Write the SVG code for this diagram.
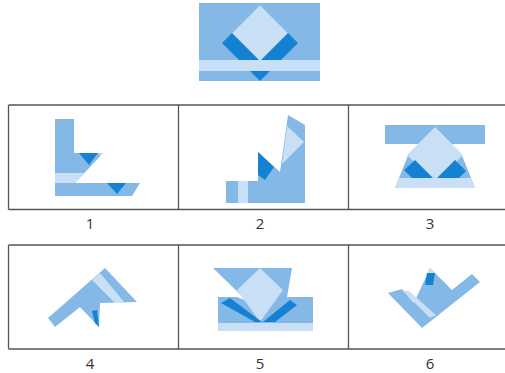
<svg xmlns="http://www.w3.org/2000/svg" width="505" height="373" viewBox="0 0 505 373">
<style>
.m{fill:#84b8e7}
.l{fill:#c9dff5}
.d{fill:#1581d2}
.g{fill:none;stroke:#555;stroke-width:1.3}
.t{font-family:"Open Sans","Liberation Sans",sans-serif;font-size:15px;fill:#333;text-anchor:middle}
</style>
<rect width="505" height="373" fill="#fff"/>
<g id="top">
<rect class="m" x="199" y="3" width="121" height="78"/>
<polygon class="d" points="260,5 298,43 260,81 222,43"/>
<polygon class="l" points="260,5 288,33 260,61 232,33"/>
<rect class="l" x="199" y="60" width="121" height="11"/>
</g>
<g id="grid">
<path class="g" d="M8.5,105H510M8.5,209.5H510M8.5,105V209.5M178.5,105V209.5M348.5,105V209.5"/>
<path class="g" d="M8.5,245H510M8.5,349H510M8.5,245V349M178.5,245V349M348.5,245V349"/>
</g>
<g id="p1">
<polygon class="m" points="55,119 74,119 74,153 103,153 75,183 55,183"/>
<polygon class="l" points="55,173 84,173 75,183 55,183"/>
<polygon class="d" points="79,153 98,153 89,165"/>
<polygon class="l" points="98,153 104,153 101,156"/>
<polygon class="m" points="55,183 140,183 132,196 55,196"/>
<polygon class="d" points="107,183 126,183 117,194"/>
</g>
<g id="p2">
<polygon class="m" points="226,181 258,181 258,152 280,172 288,115 305,125 305,203 226,203"/>
<rect class="l" x="238" y="181" width="10" height="22"/>
<polygon class="d" points="258,152 274,167 265,180 258,175"/>
<polygon class="l" points="287,126 304,142 282,164"/>
</g>
<g id="p3">
<rect class="m" x="385" y="125" width="100" height="19"/>
<polygon class="m" points="409,153 461,153 475,188 395,188"/>
<polygon class="l" points="435,127 463,155 435,183 407,155"/>
<polygon class="d" points="404,170 415,160 433,178 412,178"/>
<polygon class="d" points="437,178 455,160 466,171 459,178"/>
<polygon class="l" points="399,178 471,178 475,188 395,188"/>
</g>
<g id="p4">
<polygon class="m" points="105,268 137,302 100,303 99,327 80,307 55,327 48,318"/>
<polygon class="l" points="92,280 100,273 125,303 115,303"/>
<polygon class="d" points="92,311 97,310 99,327 95,323"/>
</g>
<g id="p5">
<polygon class="m" points="213,268 292,268 287,297 245,299"/>
<rect class="m" x="218" y="297" width="95" height="26"/>
<polygon fill="#fff" points="237,297 244,297 245,300"/>
<polygon class="l" points="260,268 283,290 260,322 237,290"/>
<polygon class="d" points="221,303 230,298 262,322 255,322"/>
<polygon class="d" points="263,322 290,300 297,305 275,322"/>
<rect class="l" x="218" y="323" width="95" height="8"/>
</g>
<g id="p6">
<polygon class="m" points="388,293 402,289 414,303 430,268 452,290 472,274 480,282 422,328"/>
<polygon class="l" points="402,290 409,291 436,315 430,318"/>
<polygon class="d" points="427,273 435,273 433,285 425,285"/>
<polygon class="l" points="430,268 435,273 427,273"/>
</g>
<g id="labels">
<text class="t" x="90" y="229">1</text>
<text class="t" x="260" y="229">2</text>
<text class="t" x="430" y="229">3</text>
<text class="t" x="90" y="369">4</text>
<text class="t" x="260" y="369">5</text>
<text class="t" x="430" y="369">6</text>
</g>
</svg>
